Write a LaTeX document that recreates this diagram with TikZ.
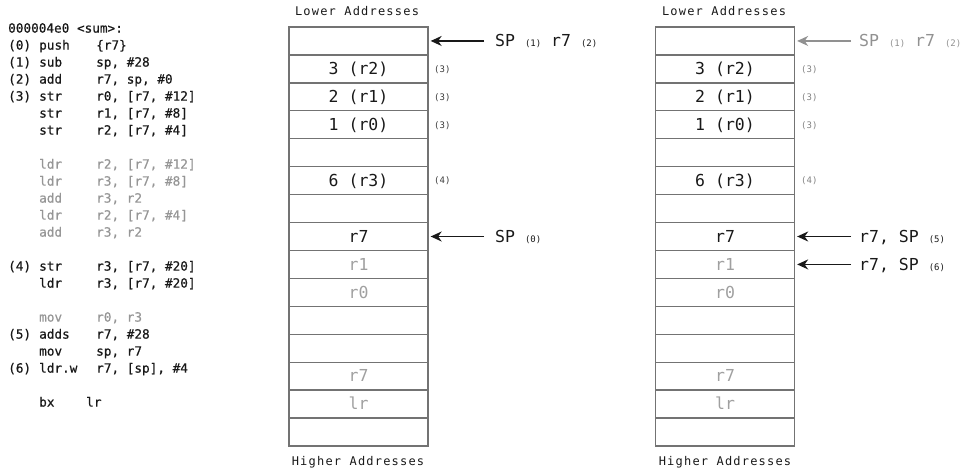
\documentclass[tikz,border=0pt]{standalone}
\usepackage{fontspec}
\setmainfont{DejaVu Sans}
\setmonofont{DejaVu Sans Mono}
\newfontfamily\myaddrfamily[LetterSpace=10]{DejaVu Sans Mono}
\newfontfamily\mycodefamily[FakeBold=0.6]{DejaVu Sans Mono}
\usetikzlibrary{arrows.meta}
\definecolor{codegray}{RGB}{150,150,150}
\definecolor{cellgray}{RGB}{160,160,160}
\definecolor{bordergray}{RGB}{115,115,115}
\definecolor{arrgray}{RGB}{145,145,145}
\definecolor{smallgray}{RGB}{130,130,130}
\definecolor{ink}{RGB}{25,25,25}
\newcommand\mycodefont{\mycodefamily\fontsize{12.7}{15}\selectfont}
\newcommand\myrowfont{\ttfamily\fontsize{16.5}{19}\selectfont}
\newcommand\mysmallfont{\ttfamily\fontsize{9}{11}\selectfont}
\newcommand\myaddrfont{\myaddrfamily\fontsize{12}{14}\selectfont}
\tikzset{
  code/.style={anchor=west, inner sep=0pt, font=\mycodefont, text height=9.2pt, text depth=0pt, text=ink},
  codeg/.style={code, text=codegray},
  cell/.style={draw=bordergray, line width=1.3pt, minimum width=139pt, minimum height=27.933pt,
    inner sep=0pt, font=\myrowfont, text height=11.5pt, text depth=0pt, text=ink},
  cellg/.style={cell, text=cellgray},
  addr/.style={inner sep=0pt, font=\myaddrfont, text=ink},
  ptr/.style={anchor=west, inner sep=0pt, font=\myrowfont, text height=12pt, text depth=0pt, text=ink},
  ptrg/.style={ptr, text=arrgray},
  note/.style={anchor=west, inner sep=0pt, font=\mysmallfont, text height=6.5pt, text depth=0pt, text=ink!85},
  noteg/.style={note, text=smallgray},
  arr/.style={draw=ink, line width=1.5pt, shorten >=2pt, -{Stealth[length=11pt,width=10pt,inset=3.5pt]}},
  arrg/.style={arr, draw=arrgray},
}
\begin{document}
\begin{tikzpicture}[x=1pt,y=-1pt]
\useasboundingbox (0,0) rectangle (968,473);

% ---------------- code listing ----------------
\node[code] (h) at (8,28) {000004e0 <sum>:};
\node[code] (p0) at (8,45) {(0)};  \node[code] (m0) at (39,45) {push};  \node[code] (o0) at (96,45) {\{r7\}};
\node[code] (p1) at (8,62) {(1)};  \node[code] (m1) at (39,62) {sub};   \node[code] (o1) at (96,62) {sp, \#28};
\node[code] (p2) at (8,79) {(2)};  \node[code] (m2) at (39,79) {add};   \node[code] (o2) at (96,79) {r7, sp, \#0};
\node[code] (p3) at (8,96) {(3)};  \node[code] (m3) at (39,96) {str};   \node[code] (o3) at (96,96) {r0, [r7, \#12]};
\node[code] (m4) at (39,113) {str};  \node[code] (o4) at (96,113) {r1, [r7, \#8]};
\node[code] (m5) at (39,130) {str};  \node[code] (o5) at (96,130) {r2, [r7, \#4]};

\node[codeg] (m6) at (39,164) {ldr};  \node[codeg] (o6) at (96,164) {r2, [r7, \#12]};
\node[codeg] (m7) at (39,181) {ldr};  \node[codeg] (o7) at (96,181) {r3, [r7, \#8]};
\node[codeg] (m8) at (39,198) {add};  \node[codeg] (o8) at (96,198) {r3, r2};
\node[codeg] (m9) at (39,215) {ldr};  \node[codeg] (o9) at (96,215) {r2, [r7, \#4]};
\node[codeg] (m10) at (39,232) {add}; \node[codeg] (o10) at (96,232) {r3, r2};

\node[code] (p11) at (8,266) {(4)}; \node[code] (m11) at (39,266) {str}; \node[code] (o11) at (96,266) {r3, [r7, \#20]};
\node[code] (m12) at (39,283) {ldr}; \node[code] (o12) at (96,283) {r3, [r7, \#20]};

\node[codeg] (m13) at (39,317) {mov}; \node[codeg] (o13) at (96,317) {r0, r3};
\node[code] (p14) at (8,334) {(5)}; \node[code] (m14) at (39,334) {adds}; \node[code] (o14) at (96,334) {r7, \#28};
\node[code] (m15) at (39,351) {mov}; \node[code] (o15) at (96,351) {sp, r7};
\node[code] (p16) at (8,368) {(6)}; \node[code] (m16) at (39,368) {ldr.w}; \node[code] (o16) at (96,368) {r7, [sp], \#4};

\node[code] (m17) at (39,402) {bx}; \node[code] (o17) at (86,402) {lr};

% ---------------- left stack ----------------
\node[addr] (lowL) at (357,11) {Lower Addresses};
\node[cell]  (L0)  at (358.5,40.97) {};
\node[cell]  (L1)  at (358.5,68.90) {3 (r2)};
\node[cell]  (L2)  at (358.5,96.83) {2 (r1)};
\node[cell]  (L3)  at (358.5,124.77) {1 (r0)};
\node[cell]  (L4)  at (358.5,152.70) {};
\node[cell]  (L5)  at (358.5,180.63) {6 (r3)};
\node[cell]  (L6)  at (358.5,208.57) {};
\node[cell]  (L7)  at (358.5,236.50) {r7};
\node[cellg] (L8)  at (358.5,264.43) {r1};
\node[cellg] (L9)  at (358.5,292.37) {r0};
\node[cell]  (L10) at (358.5,320.30) {};
\node[cell]  (L11) at (358.5,348.23) {};
\node[cellg] (L12) at (358.5,376.17) {r7};
\node[cellg] (L13) at (358.5,404.10) {lr};
\node[cell]  (L14) at (358.5,432.03) {};
\node[addr] (highL) at (358,462) {Higher Addresses};

\node[note] (nL1) at (434,68.90) {(3)};
\node[note] (nL2) at (434,96.83) {(3)};
\node[note] (nL3) at (434,124.77) {(3)};
\node[note] (nL5) at (434,180.63) {(4)};

\coordinate (tL0) at (484,40.97);
\coordinate (tL7) at (484,236.5);
\draw[arr] (tL0) -- (L0.east);
\draw[arr] (tL7) -- (L7.east);
\node[ptr] (sL0) at (495,40.97) {SP {\mysmallfont (1)} r7 {\mysmallfont (2)}};
\node[ptr] (sL7) at (495,236.5) {SP {\mysmallfont (0)}};

% ---------------- right stack ----------------
\node[addr] (lowR) at (724,11) {Lower Addresses};
\node[cell]  (R0)  at (725,40.97) {};
\node[cell]  (R1)  at (725,68.90) {3 (r2)};
\node[cell]  (R2)  at (725,96.83) {2 (r1)};
\node[cell]  (R3)  at (725,124.77) {1 (r0)};
\node[cell]  (R4)  at (725,152.70) {};
\node[cell]  (R5)  at (725,180.63) {6 (r3)};
\node[cell]  (R6)  at (725,208.57) {};
\node[cell]  (R7)  at (725,236.50) {r7};
\node[cellg] (R8)  at (725,264.43) {r1};
\node[cellg] (R9)  at (725,292.37) {r0};
\node[cell]  (R10) at (725,320.30) {};
\node[cell]  (R11) at (725,348.23) {};
\node[cellg] (R12) at (725,376.17) {r7};
\node[cellg] (R13) at (725,404.10) {lr};
\node[cell]  (R14) at (725,432.03) {};
\node[addr] (highR) at (725,462) {Higher Addresses};

\node[noteg] (nR1) at (801,68.90) {(3)};
\node[noteg] (nR2) at (801,96.83) {(3)};
\node[noteg] (nR3) at (801,124.77) {(3)};
\node[noteg] (nR5) at (801,180.63) {(4)};

\coordinate (tR0) at (851,40.97);
\coordinate (tR7) at (851,236.5);
\coordinate (tR8) at (851,264.43);
\draw[arrg] (tR0) -- (R0.east);
\draw[arr] (tR7) -- (R7.east);
\draw[arr] (tR8) -- (R8.east);
\node[ptrg] (sR0) at (859,40.97) {SP {\mysmallfont (1)} r7 {\mysmallfont (2)}};
\node[ptr] (sR7) at (859,236.5) {r7, SP {\mysmallfont (5)}};
\node[ptr] (sR8) at (859,264.43) {r7, SP {\mysmallfont (6)}};
\end{tikzpicture}
\end{document}
